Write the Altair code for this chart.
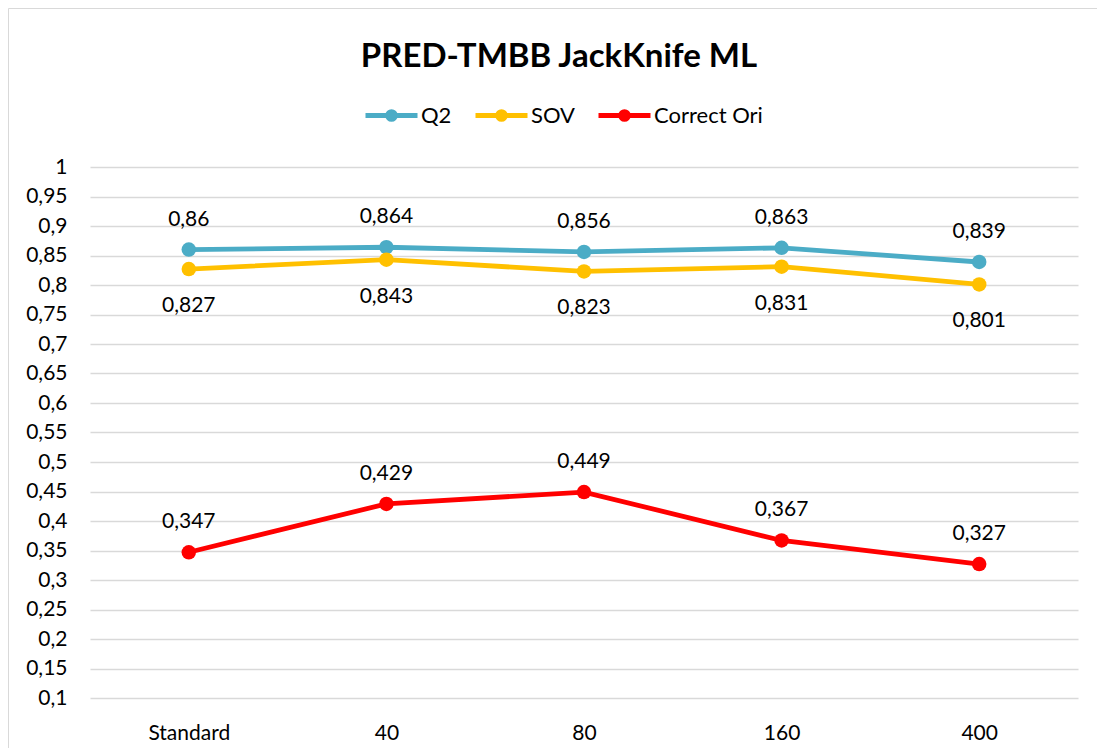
import altair as alt
import pandas as pd

categories = ["Standard", "40", "80", "160", "400"]
series_names = ["Q2", "SOV", "Correct Ori"]
q2 = [0.86, 0.864, 0.856, 0.863, 0.839]
sov = [0.827, 0.843, 0.823, 0.831, 0.801]
correct_ori = [0.347, 0.429, 0.449, 0.367, 0.327]
colors = ["#4BACC6", "#FFC000", "#FF0000"]
y_ticks = [0.1, 0.15, 0.2, 0.25, 0.3, 0.35, 0.4, 0.45, 0.5, 0.55, 0.6, 0.65,
           0.7, 0.75, 0.8, 0.85, 0.9, 0.95, 1]

rows = []
for name, vals in zip(series_names, [q2, sov, correct_ori]):
    for c, v in zip(categories, vals):
        rows.append({"cat": c, "series": name, "value": v,
                     "label": str(v).replace(".", ",")})
df = pd.DataFrame(rows)

FONT = "Lato"
FS = 21

x = alt.X("cat:N", sort=categories, title=None,
          scale=alt.Scale(type="point", padding=0.5),
          axis=alt.Axis(labelAngle=0, domain=False, ticks=False, grid=False,
                        labelFont=FONT, labelFontSize=FS, labelColor="#000000",
                        labelPadding=24))
y = alt.Y("value:Q", title=None,
          scale=alt.Scale(domain=[0.1, 1], nice=False, zero=False),
          axis=alt.Axis(values=y_ticks, domain=False, ticks=False,
                        gridColor="#D9D9D9", gridWidth=1.3,
                        labelFont=FONT, labelFontSize=FS, labelColor="#000000",
                        labelPadding=23,
                        labelExpr="replace(toString(datum.value), '.', ',')"))

legend_path = ("M-1,0L1,0M-0.15,0A0.15,0.15 0 1,0 0.15,0"
               "A0.15,0.15 0 1,0 -0.15,0Z")
color = alt.Color("series:N", sort=series_names,
                  scale=alt.Scale(domain=series_names, range=colors),
                  legend=alt.Legend(title=None, orient="none", direction="horizontal",
                                    legendX=273, legendY=-80,
                                    symbolType=legend_path, symbolSize=2704,
                                    symbolStrokeWidth=4.8, labelOffset=1,
                                    columnPadding=13, padding=0,
                                    labelFont=FONT, labelFontSize=22,
                                    labelColor="#000000"))

base = alt.Chart(df).encode(x=x, y=y)

lines = base.mark_line(strokeWidth=4.8).encode(color=color)
points = base.mark_point(filled=True, size=210, opacity=1).encode(color=color)

above = base.transform_filter(alt.datum.series != "SOV").mark_text(
    font=FONT, fontSize=FS, color="#000000", baseline="alphabetic", dy=-24
).encode(text="label:N")
below = base.transform_filter(alt.datum.series == "SOV").mark_text(
    font=FONT, fontSize=FS, color="#000000", baseline="alphabetic", dy=43
).encode(text="label:N")

border = alt.Chart(pd.DataFrame({"a": [0]})).mark_rect(
    fill=None, stroke="#D9D9D9", strokeWidth=1
).encode(x=alt.value(-81.5), x2=alt.value(1100), y=alt.value(-158.5), y2=alt.value(700))

chart = alt.layer(border, lines, points, above, below).properties(
    width=988, height=531,
    padding={"left": 82, "top": 159, "right": 19, "bottom": 50},
    autosize=alt.AutoSizeParams(type="none"),
    title=alt.TitleParams("PRED-TMBB JackKnife ML", font=FONT, fontSize=33,
                          fontWeight="bold", color="#000000", anchor="middle",
                          frame="group", dx=-25, offset=-66),
).configure_view(stroke=None)

chart.save("out.html", embed_options={"renderer": "svg", "actions": False})
